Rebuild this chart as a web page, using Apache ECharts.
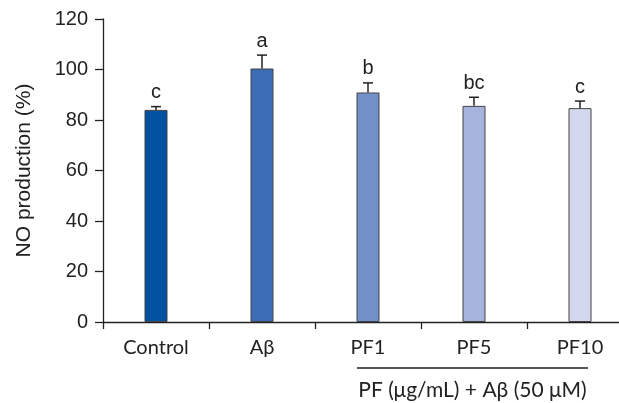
<!DOCTYPE html>
<html><head><meta charset="utf-8">
<script src="https://cdn.jsdelivr.net/npm/echarts@6/dist/echarts.min.js"></script>
<style>html,body{margin:0;padding:0;background:#fff}#c{width:619px;height:403px}</style>
</head><body><div id="c"></div>
<script>
const categories = ['Control', 'Aβ', 'PF1', 'PF5', 'PF10'];
const means = [84.0, 100.4, 90.9, 85.6, 84.7];
const errors = [1.3, 5.3, 3.8, 3.4, 2.8];
const letters = ['c', 'a', 'b', 'bc', 'c'];
const colors = ['#0152A0', '#3D6CB6', '#7290C8', '#A5B3DD', '#D3D8EE'];
const yTicks = [0, 20, 40, 60, 80, 100, 120];
const groupLabel = 'PF (μg/mL) + Aβ (50 μM)';

const chart = echarts.init(document.getElementById('c'));
const xFont = 'Lato, "Noto Sans", sans-serif';
const yFont = '"Liberation Sans", Arial, sans-serif';
chart.setOption({
  animation: false,
  grid: {left: 103, width: 530, top: 19, bottom: 81, outerBoundsMode: 'none', containLabel: false},
  xAxis: {
    type: 'category', data: categories,
    axisLine: {lineStyle: {color: '#222', width: 1.3}},
    axisTick: {show: true, length: 7, lineStyle: {color: '#222', width: 1.3}},
    axisLabel: {color: '#222', fontSize: 20, fontFamily: xFont, margin: 16}
  },
  yAxis: {
    type: 'value', min: yTicks[0], max: yTicks[yTicks.length - 1], interval: 20,
    axisLine: {show: true, lineStyle: {color: '#222', width: 1.3}},
    axisTick: {show: true, length: 8, lineStyle: {color: '#222', width: 1.3}},
    splitLine: {show: false},
    axisLabel: {color: '#222', fontSize: 20, fontFamily: yFont, margin: 15},
    name: 'NO production (%)', nameLocation: 'middle', nameGap: 68,
    nameTextStyle: {color: '#222', fontSize: 21, fontFamily: yFont}
  },
  series: [
    {
      type: 'bar', barWidth: 23,
      data: means.map((v, i) => ({value: v, itemStyle: {color: colors[i]}})),
      itemStyle: {borderColor: '#444', borderWidth: 1}
    },
    {
      type: 'custom',
      data: means.map((v, i) => [i, v, errors[i]]),
      renderItem: function (params, api) {
        const i = api.value(0);
        const base = api.coord([i, api.value(1)]);
        const top = api.coord([i, api.value(1) + api.value(2)]);
        const hw = 5;
        return {
          type: 'group',
          children: [
            {type: 'line', shape: {x1: base[0], y1: base[1], x2: top[0], y2: top[1]}, style: {stroke: '#222', lineWidth: 1.5}},
            {type: 'line', shape: {x1: top[0] - hw, y1: top[1], x2: top[0] + hw, y2: top[1]}, style: {stroke: '#222', lineWidth: 1.5}},
            {type: 'text', style: {text: letters[params.dataIndex], x: top[0], y: top[1] - 4, textAlign: 'center', textVerticalAlign: 'bottom', fill: '#222', font: '20px "Liberation Sans", Arial, sans-serif'}}
          ]
        };
      },
      z: 5
    },
    {
      type: 'custom',
      data: [[2, 4]],
      renderItem: function (params, api) {
        const a = api.coord([api.value(0), 0]);
        const b = api.coord([api.value(1), 0]);
        const half = api.size([1, 0])[0] / 2;
        const x1 = a[0] - half + 42, x2 = b[0] + half - 45;
        const y = a[1] + 46;
        return {
          type: 'group',
          children: [
            {type: 'line', shape: {x1: x1, y1: y, x2: x2, y2: y}, style: {stroke: '#222', lineWidth: 1.3}},
            {type: 'text', style: {text: groupLabel, x: (x1 + x2) / 2, y: y + 22, textAlign: 'center', textVerticalAlign: 'middle', fill: '#222', font: '21px Lato, "Noto Sans", sans-serif'}}
          ]
        };
      }
    }
  ]
});
</script></body></html>
